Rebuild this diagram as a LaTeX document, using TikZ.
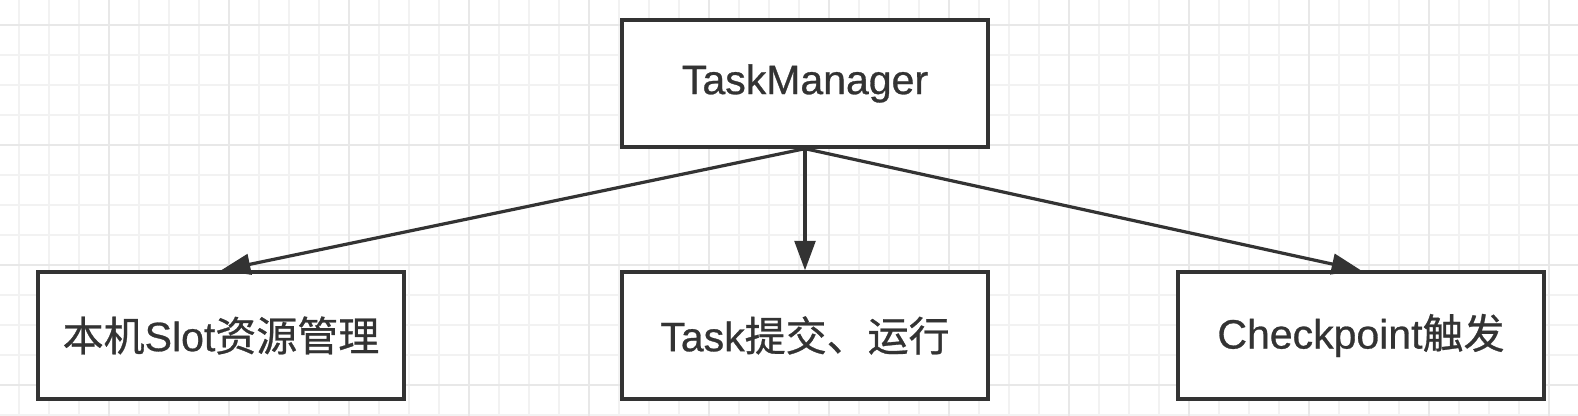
\documentclass[tikz,border=0pt]{standalone}
\usepackage{fontspec}
\setmainfont[FakeBold=0.7]{Liberation Sans}
\newfontfamily\cjk[FakeBold=0.7]{Noto Sans CJK SC}
\usetikzlibrary{arrows.meta}
\definecolor{ink}{HTML}{333333}
\definecolor{gridminor}{HTML}{F2F2F2}
\definecolor{gridmajor}{HTML}{E8E8E8}
\begin{document}
\begin{tikzpicture}[x=0.75pt,y=-0.75pt,
  minorline/.style={gridminor,line width=1.3pt},
  majorline/.style={gridmajor,line width=1.3pt},
  box/.style={draw=ink,line width=2.5pt,fill=white,rectangle,
    minimum width=274.5pt,minimum height=95.25pt,inner sep=0pt,
    text=ink,font=\fontsize{30.75pt}{36pt}\selectfont},
  link/.style={draw=ink,line width=2.4pt,-{Triangle[length=22pt,width=15.5pt]}}]
\useasboundingbox (0,0) rectangle (1578,416);
\fill[white] (0,0) rectangle (1578,416);
\foreach \k in {0,...,51}{\draw[minorline] ({19+30*\k},0) -- ({19+30*\k},416);}
\foreach \k in {0,...,13}{\draw[minorline] (0,{25+30*\k}) -- (1578,{25+30*\k});}
\foreach \k in {0,...,12}{\draw[majorline] ({109+120*\k},0) -- ({109+120*\k},416);}
\foreach \k in {0,...,3}{\draw[majorline] (0,{25+120*\k}) -- (1578,{25+120*\k});}
\node[box] (tm) at (805,83.5) {TaskManager};
\node[box] (slot) at (221,335.5) {{\cjk 本机}Slot{\cjk 资源管理}};
\node[box] (task) at (805,335.5) {Task{\cjk 提交、运行}};
\node[box] (cp) at (1361,335.5) {Checkpoint{\cjk 触发}};
\draw[link] (tm.south) -- (slot.north);
\draw[link] (tm.south) -- (task.north);
\draw[link] (tm.south) -- (cp.north);
\end{tikzpicture}
\end{document}
